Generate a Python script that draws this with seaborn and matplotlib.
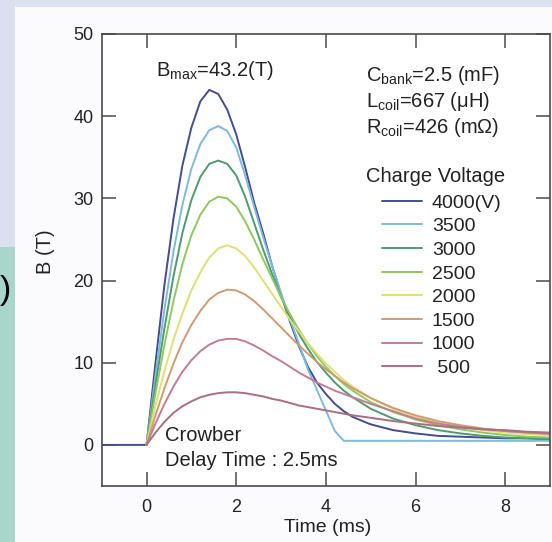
import matplotlib
matplotlib.use("Agg")
import matplotlib.pyplot as plt
from matplotlib.patches import Rectangle
import pandas as pd
import seaborn as sns

# ---------------- data ----------------
time_ms = [0.0, 0.2, 0.4, 0.6, 0.8, 1.0, 1.2, 1.4, 1.6, 1.8, 2.0, 2.2, 2.4,
           2.6, 2.8, 3.0, 3.2, 3.4, 3.6, 3.8, 4.0, 4.2, 4.4, 4.6, 5.0, 5.5,
           6.0, 6.5, 7.0, 7.5, 8.0, 8.5, 9.0]

voltages = ["4000", "3500", "3000", "2500", "2000", "1500", "1000", "500"]
legend_labels = ["4000(V)", "3500", "3000", "2500", "2000", "1500", "1000", " 500"]
colors = ["#434d8f", "#7fb9dd", "#4f9a6e", "#8ec95f", "#e0df78",
          "#cf9b73", "#c27d93", "#a86f80"]

b_4000 = [0.0, 10.0, 19.5, 27.5, 34.0, 38.6, 41.8, 43.2, 42.7, 40.8, 37.8, 33.8,
          29.5, 25.8, 21.8, 18.3, 15.0, 12.0, 9.5, 7.6, 6.2, 5.0, 4.1, 3.4,
          2.5, 1.8, 1.4, 1.1, 1.0, 0.9, 0.8, 0.8, 0.7]
b_3500 = [0.0, 8.5, 16.5, 23.5, 29.2, 33.6, 36.6, 38.3, 38.8, 38.2, 36.2, 32.8,
          29.0, 25.3, 21.8, 18.5, 15.3, 12.3, 9.2, 6.7, 4.2, 1.7, 0.5, 0.5,
          0.5, 0.5, 0.5, 0.5, 0.5, 0.5, 0.5, 0.5, 0.5]
b_3000 = [0.0, 7.3, 14.2, 20.5, 25.8, 29.8, 32.6, 34.2, 34.6, 34.2, 32.8, 30.2,
          27.0, 23.8, 20.8, 18.0, 15.6, 13.5, 11.7, 10.1, 8.8, 7.6, 6.6, 5.8,
          4.4, 3.2, 2.4, 1.8, 1.4, 1.1, 0.9, 0.8, 0.7]
b_2500 = [0.0, 6.3, 12.2, 17.5, 22.0, 25.5, 28.0, 29.6, 30.2, 30.0, 29.0, 27.2,
          25.0, 22.6, 20.3, 18.0, 15.9, 14.0, 12.3, 10.8, 9.5, 8.4, 7.4, 6.6,
          5.2, 4.0, 3.1, 2.4, 1.9, 1.5, 1.2, 1.0, 0.9]
b_2000 = [0.0, 4.8, 9.0, 12.8, 16.0, 18.8, 21.0, 22.8, 23.9, 24.3, 23.9, 23.0,
          21.6, 20.0, 18.4, 16.8, 15.2, 13.8, 12.4, 11.1, 9.9, 8.9, 7.9, 7.1,
          5.7, 4.4, 3.4, 2.7, 2.2, 1.8, 1.5, 1.3, 1.2]
b_1500 = [0.0, 3.6, 6.9, 9.9, 12.5, 14.6, 16.3, 17.7, 18.5, 18.9, 18.8, 18.3,
          17.5, 16.5, 15.4, 14.3, 13.2, 12.1, 11.1, 10.1, 9.2, 8.4, 7.6, 6.9,
          5.7, 4.5, 3.6, 2.9, 2.4, 2.0, 1.7, 1.5, 1.3]
b_1000 = [0.0, 2.6, 5.0, 7.1, 8.9, 10.3, 11.4, 12.2, 12.7, 12.9, 12.9, 12.6,
          12.1, 11.5, 10.8, 10.2, 9.5, 8.8, 8.2, 7.6, 7.1, 6.6, 6.2, 5.8,
          5.0, 4.1, 3.2, 2.6, 2.2, 1.9, 1.7, 1.5, 1.4]
b_500 = [0.0, 1.5, 2.8, 3.9, 4.7, 5.3, 5.8, 6.1, 6.3, 6.4, 6.4, 6.3,
         6.1, 5.9, 5.6, 5.4, 5.1, 4.8, 4.6, 4.4, 4.2, 4.0, 3.8, 3.6,
         3.3, 2.9, 2.6, 2.3, 2.1, 1.9, 1.8, 1.6, 1.5]

# flat trace before the trigger (drawn with the 4000 V shot)
pre_trigger_time = [-1.0]
pre_trigger_b = [0.0]

series = {"4000": b_4000, "3500": b_3500, "3000": b_3000, "2500": b_2500,
          "2000": b_2000, "1500": b_1500, "1000": b_1000, "500": b_500}

x_ticks = [0, 2, 4, 6, 8]
y_ticks = [0, 10, 20, 30, 40, 50]

# ---------------- build table ----------------
rows = []
for v in voltages:
    t_list = list(time_ms)
    b_list = list(series[v])
    if v == "4000":
        t_list = pre_trigger_time + t_list
        b_list = pre_trigger_b + b_list
    for t, b in zip(t_list, b_list):
        rows.append({"Time (ms)": t, "B (T)": b, "Charge Voltage": v})
df = pd.DataFrame(rows)

# ---------------- style ----------------
sns.set_style("ticks")
plt.rcParams["font.family"] = ["Liberation Sans", "DejaVu Sans"]
plt.rcParams["mathtext.fontset"] = "custom"
plt.rcParams["mathtext.rm"] = "Liberation Sans"
plt.rcParams["mathtext.it"] = "Liberation Sans"
text_color = "#222222"
spine_color = "#4a4a4a"
fs = 14.5

W, H = 552, 542
fig = plt.figure(figsize=(W / 100, H / 100), dpi=100)
fig.patch.set_facecolor("white")

# slide background strips around the pasted chart
fig.add_artist(Rectangle((0, 0), 1, 1, transform=fig.transFigure,
                         facecolor="#fbfbfd", edgecolor="none", zorder=-10))
fig.add_artist(Rectangle((0, 1 - 7 / H), 1, 7 / H, transform=fig.transFigure,
                         facecolor="#dfe2f2", edgecolor="none", zorder=-9))
fig.add_artist(Rectangle((0, 1 - 247 / H), 15 / W, 247 / H, transform=fig.transFigure,
                         facecolor="#dcdff0", edgecolor="none", zorder=-9))
fig.add_artist(Rectangle((0, 0), 15 / W, 1 - 247 / H, transform=fig.transFigure,
                         facecolor="#a8d6cb", edgecolor="none", zorder=-9))
fig.text(0.0, 1 - 290 / H, ")", fontsize=24, color="black", ha="left", va="center")

left_px, right_px, top_px, bottom_px = 101.7, 550.0, 34.0, 486.0
ax = fig.add_axes([left_px / W, 1 - bottom_px / H,
                   (right_px - left_px) / W, (bottom_px - top_px) / H])
ax.set_facecolor("white")

sns.lineplot(data=df, x="Time (ms)", y="B (T)", hue="Charge Voltage",
             hue_order=voltages, palette=colors, linewidth=1.4,
             estimator=None, sort=True, ax=ax)

ax.set_xlim(-1.0, 9.0)
ax.set_ylim(-5.0, 50.0)
ax.set_xticks(x_ticks)
ax.set_yticks(y_ticks)
ax.tick_params(direction="in", length=10, width=1.1, top=True, right=True,
               labelsize=13, colors=spine_color, labelcolor=text_color)
ax.tick_params(axis="x", pad=9)
ax.tick_params(axis="y", pad=6)
for s in ax.spines.values():
    s.set_visible(True)
    s.set_color(spine_color)
    s.set_linewidth(1.2)

ax.set_xlabel("Time (ms)", fontsize=14, color=text_color)
ax.set_ylabel("B (T)", fontsize=fs, color=text_color)
ax.xaxis.set_label_coords(0.505, -0.072)
ax.yaxis.set_label_coords(-0.104, 0.518)

# annotations
ax.text(0.22, 45.6, r"B$_{\mathregular{max}}$=43.2(T)", fontsize=fs,
        color=text_color, ha="left", va="center")
ax.text(4.9, 45.0, r"C$_{\mathregular{bank}}$=2.5 (mF)", fontsize=fs,
        color=text_color, ha="left", va="center")
ax.text(4.9, 41.8, r"L$_{\mathregular{coil}}$=667 (μH)", fontsize=fs,
        color=text_color, ha="left", va="center")
ax.text(4.9, 38.6, r"R$_{\mathregular{coil}}$=426 (mΩ)", fontsize=fs,
        color=text_color, ha="left", va="center")
ax.text(4.9, 32.6, "Charge Voltage", fontsize=fs, color=text_color,
        ha="left", va="center")
ax.text(0.42, 1.1, "Crowber", fontsize=fs, color=text_color,
        ha="left", va="center")
ax.text(0.42, -1.95, "Delay Time : 2.5ms", fontsize=fs, color=text_color,
        ha="left", va="center")

# legend
old = ax.get_legend()
handles = list(old.legend_handles)
old.remove()
leg = ax.legend(handles, legend_labels, loc="upper left",
                bbox_to_anchor=(382 / W, 1 - 194 / H),
                bbox_transform=fig.transFigure, frameon=False,
                fontsize=14, handlelength=2.06, handletextpad=0.5,
                labelspacing=0.31, borderpad=0, borderaxespad=0)
for txt in leg.get_texts():
    txt.set_color(text_color)
for h in leg.legend_handles:
    h.set_linewidth(1.4)

fig.savefig("out.png", dpi=100)
